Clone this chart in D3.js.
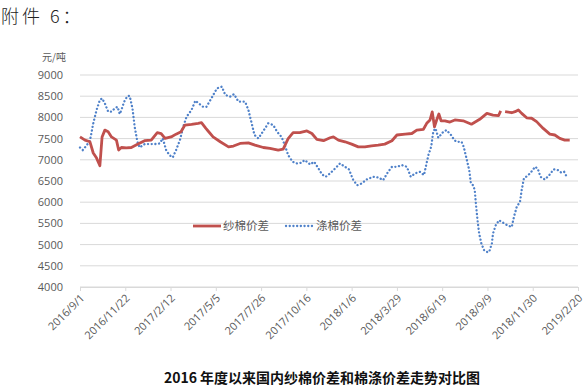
<!DOCTYPE html>
<html>
<head>
<meta charset="utf-8">
<script src="https://cdn.jsdelivr.net/npm/d3@7"></script>
<style>
  body { margin: 0; background: #fff; }
  svg { display: block; }
</style>
</head>
<body>
<div id="chart"></div>
<script>
// Data
const yTicks = [4000, 4500, 5000, 5500, 6000, 6500, 7000, 7500, 8000, 8500, 9000];
const xTickLabels = ["2016/9/1", "2016/11/22", "2017/2/12", "2017/5/5", "2017/7/26", "2017/10/16",
    "2018/1/6", "2018/3/29", "2018/6/19", "2018/9/9", "2018/11/30", "2019/2/20"];

// 纱棉价差 (null = gap in the line)
const yarnDates = ["2016-09-01","2016-09-10","2016-09-19","2016-09-25","2016-10-01","2016-10-07","2016-10-11",
    "2016-10-16","2016-10-22","2016-10-28","2016-11-06","2016-11-10","2016-11-15","2016-11-24","2016-12-03",
    "2016-12-15","2016-12-27","2017-01-08","2017-01-19","2017-01-26","2017-02-02","2017-02-13","2017-02-22",
    "2017-03-03","2017-03-10","2017-03-22","2017-04-03","2017-04-09","2017-04-17","2017-04-21","2017-04-30",
    "2017-05-13","2017-05-28","2017-06-06","2017-06-18","2017-07-03","2017-07-15","2017-07-30","2017-08-11",
    "2017-08-26","2017-09-04","2017-09-13","2017-09-22","2017-10-04","2017-10-17","2017-10-26","2017-11-04",
    "2017-11-16","2017-11-28","2017-12-04","2017-12-13","2017-12-25","2018-01-06","2018-01-18","2018-01-30",
    "2018-02-11","2018-02-23","2018-03-07","2018-03-20","2018-03-29","2018-04-13","2018-04-25","2018-05-04",
    "2018-05-16","2018-05-22","2018-05-28","2018-06-01","2018-06-05","2018-06-09","2018-06-13","2018-06-17",
    "2018-06-24","2018-07-03","2018-07-12","2018-07-27","2018-08-11","2018-08-26","2018-09-08","2018-09-19",
    "2018-09-29","2018-10-03","2018-10-07","2018-10-11","2018-10-23","2018-10-29","2018-11-04","2018-11-10",
    "2018-11-19","2018-11-28","2018-12-07","2018-12-19","2018-12-31","2019-01-09","2019-01-18","2019-01-27",
    "2019-02-05"];
const yarnValues = [7540,7465,7425,7160,7040,6860,7540,
    7700,7660,7540,7465,7230,7290,7280,7290,
    7370,7450,7465,7640,7620,7505,7540,7605,
    7660,7820,7835,7860,7875,7740,7680,7540,
    7425,7305,7325,7385,7400,7345,7290,7270,
    7230,7250,7500,7640,7640,7680,7620,7480,
    7450,7520,7540,7465,7425,7370,7305,7305,
    7330,7345,7370,7450,7585,7605,7620,7700,
    7720,7860,7940,8130,7780,7940,8080,7920,
    7920,7890,7940,7920,7840,7955,8095,8055,
    8040,8155,null,8135,8110,8135,8175,8095,
    7990,7980,7900,7740,7605,7585,7505,7465,
    7465];

// 涤棉价差
const polyDates = ["2016-09-01","2016-09-06","2016-09-12","2016-09-19","2016-09-25","2016-10-01","2016-10-07",
    "2016-10-11","2016-10-16","2016-10-22","2016-10-28","2016-11-03","2016-11-08","2016-11-12","2016-11-15",
    "2016-11-20","2016-11-26","2016-11-30","2016-12-05","2016-12-09","2016-12-14","2016-12-18","2016-12-27",
    "2017-01-05","2017-01-14","2017-01-23","2017-01-29","2017-02-04","2017-02-10","2017-02-16","2017-02-22",
    "2017-03-01","2017-03-07","2017-03-13","2017-03-22","2017-03-29","2017-04-04","2017-04-12","2017-04-18",
    "2017-04-27","2017-05-07","2017-05-16","2017-05-22","2017-05-31","2017-06-07","2017-06-15","2017-06-27",
    "2017-07-03","2017-07-09","2017-07-14","2017-07-21","2017-07-29","2017-08-08","2017-08-17","2017-08-24",
    "2017-09-01","2017-09-07","2017-09-13","2017-09-21","2017-09-28","2017-10-07","2017-10-13","2017-10-23",
    "2017-10-30","2017-11-07","2017-11-13","2017-11-20","2017-11-28","2017-12-07","2017-12-16","2017-12-25",
    "2018-01-01","2018-01-09","2018-01-16","2018-01-24","2018-02-02","2018-02-14","2018-02-23","2018-03-04",
    "2018-03-13","2018-03-20","2018-03-29","2018-04-07","2018-04-16","2018-04-23","2018-05-01","2018-05-10",
    "2018-05-17","2018-05-25","2018-05-30","2018-06-03","2018-06-07","2018-06-12","2018-06-21","2018-06-27",
    "2018-07-05","2018-07-11","2018-07-15","2018-07-24","2018-07-28","2018-08-02","2018-08-07","2018-08-10",
    "2018-08-14","2018-08-17","2018-08-19","2018-08-22","2018-08-25","2018-08-29","2018-09-03","2018-09-08",
    "2018-09-12","2018-09-17","2018-09-19","2018-09-24","2018-09-30","2018-10-08","2018-10-15","2018-10-23",
    "2018-10-27","2018-11-01","2018-11-07","2018-11-10","2018-11-14","2018-11-22","2018-11-30","2018-12-04",
    "2018-12-09","2018-12-14","2018-12-22","2018-12-30","2019-01-07","2019-01-15","2019-01-21","2019-01-26",
    "2019-01-30"];
const polyValues = [7290,7230,7325,7450,7860,8175,8410,
    8450,8330,8135,8135,8215,8250,8080,8175,
    8370,8505,8505,8215,7780,7425,7290,7370,
    7370,7370,7385,7505,7230,7110,7055,7230,
    7465,7780,8015,8175,8395,8330,8250,8250,
    8450,8685,8725,8530,8490,8550,8370,8370,
    8175,7860,7585,7505,7660,7860,7820,7660,
    7540,7345,7110,6955,6915,6930,6995,6890,
    6955,6795,6660,6600,6680,6795,6915,6835,
    6775,6520,6400,6440,6535,6600,6585,6520,
    6715,6835,6835,6875,6835,6600,6680,6715,
    6640,7110,7305,7680,7740,7520,7660,7700,
    7585,7465,7425,7425,7305,7035,6755,6440,
    6400,6285,5970,5575,5260,5025,4865,4825,
    4825,5025,5260,5455,5575,5510,5455,5415,
    5655,5890,6010,6285,6560,6640,6755,6835,
    6795,6600,6535,6640,6775,6755,6695,6715,
    6615];

const width = 587;
const height = 388;
const margin = { left: 80, right: 9, top: 75, bottom: 101 };
const parse = d3.timeParse("%Y-%m-%d");
const parseTick = d3.timeParse("%Y/%m/%d");

const svg = d3.select("#chart")
    .append("svg")
    .attr("width", width)
    .attr("height", height);

const x = d3.scaleTime()
    .domain([parseTick(xTickLabels[0]), parseTick(xTickLabels[xTickLabels.length - 1])])
    .range([margin.left, width - margin.right]);
const y = d3.scaleLinear()
    .domain([4000, 9000])
    .range([height - margin.bottom, margin.top]);

const labelFont = "'Open Sans', 'Liberation Sans', sans-serif";
const cjkFont = "'Noto Sans CJK SC', sans-serif";

// Heading above the chart
svg.append("text")
    .attr("x", 1)
    .attr("y", 23)
    .attr("font-family", cjkFont)
    .attr("font-size", 18)
    .attr("font-weight", 300)
    .attr("letter-spacing", 3)
    .attr("fill", "#222")
    .text("附件 6：");

// Gridlines
svg.append("g")
    .selectAll("line")
    .data(yTicks)
    .enter()
    .append("line")
    .attr("x1", margin.left)
    .attr("x2", width - margin.right)
    .attr("y1", d => y(d))
    .attr("y2", d => y(d))
    .attr("stroke", "#d9d9d9")
    .attr("stroke-width", 1);

// Y axis labels
const yAxis = svg.append("g")
    .attr("transform", `translate(${margin.left},0)`)
    .call(d3.axisLeft(y).tickValues(yTicks).tickSize(0).tickPadding(17).tickFormat(d3.format("d")));
yAxis.select(".domain").remove();
yAxis.selectAll("text")
    .attr("font-family", labelFont)
    .attr("font-size", 11)
    .attr("fill", "#595959");

svg.append("text")
    .attr("x", 54)
    .attr("y", 61)
    .attr("text-anchor", "middle")
    .attr("font-family", cjkFont)
    .attr("font-size", 10)
    .attr("fill", "#595959")
    .text("元/吨");

// X axis
const xAxis = svg.append("g")
    .attr("transform", `translate(0,${y(4000)})`)
    .call(d3.axisBottom(x)
        .tickValues(xTickLabels.map(parseTick))
        .tickSize(4)
        .tickFormat((d, i) => xTickLabels[i]));
xAxis.select(".domain").attr("stroke", "#d9d9d9");
xAxis.selectAll(".tick line").attr("stroke", "#d9d9d9");
xAxis.selectAll("text")
    .attr("font-family", labelFont)
    .attr("font-size", 11)
    .attr("fill", "#595959")
    .attr("text-anchor", "end")
    .attr("x", 0)
    .attr("y", 0)
    .attr("dy", "0.35em")
    .attr("transform", "translate(2,9) rotate(-45)");

// Lines
const yarnData = yarnDates.map((d, i) => ({ date: parse(d), value: yarnValues[i] }));
const polyData = polyDates.map((d, i) => ({ date: parse(d), value: polyValues[i] }));

const line = d3.line()
    .defined(d => d.value !== null)
    .x(d => x(d.date))
    .y(d => y(d.value));

svg.append("path")
    .datum(polyData)
    .attr("fill", "none")
    .attr("stroke", "#4f81c9")
    .attr("stroke-width", 2.3)
    .attr("stroke-linecap", "round")
    .attr("stroke-dasharray", "0.1 3.6")
    .attr("d", line);

svg.append("path")
    .datum(yarnData)
    .attr("fill", "none")
    .attr("stroke", "#c0504d")
    .attr("stroke-width", 2.8)
    .attr("stroke-linejoin", "round")
    .attr("d", line);

// Legend
const legendY = 226;
svg.append("line")
    .attr("x1", 193).attr("x2", 221)
    .attr("y1", legendY).attr("y2", legendY)
    .attr("stroke", "#c0504d")
    .attr("stroke-width", 2.8);
svg.append("text")
    .attr("x", 223)
    .attr("y", legendY + 4)
    .attr("font-family", cjkFont)
    .attr("font-size", 11.5)
    .attr("fill", "#595959")
    .text("纱棉价差");
svg.append("line")
    .attr("x1", 286).attr("x2", 313)
    .attr("y1", legendY).attr("y2", legendY)
    .attr("stroke", "#4f81c9")
    .attr("stroke-width", 2.3)
    .attr("stroke-linecap", "round")
    .attr("stroke-dasharray", "0.1 3.6");
svg.append("text")
    .attr("x", 316)
    .attr("y", legendY + 4)
    .attr("font-family", cjkFont)
    .attr("font-size", 11.5)
    .attr("fill", "#595959")
    .text("涤棉价差");

// Caption
svg.append("text")
    .attr("x", 322)
    .attr("y", 383)
    .attr("text-anchor", "middle")
    .attr("font-family", cjkFont)
    .attr("font-size", 14)
    .attr("font-weight", 700)
    .attr("fill", "#111")
    .text("2016 年度以来国内纱棉价差和棉涤价差走势对比图");
</script>
</body>
</html>
